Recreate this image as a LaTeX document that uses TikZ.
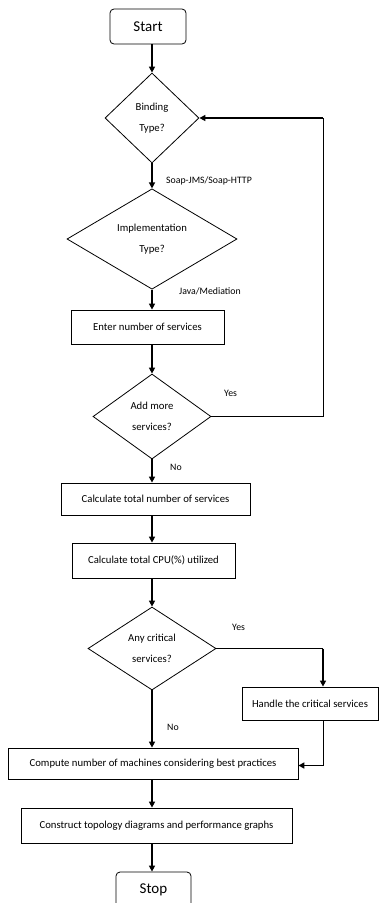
\documentclass[tikz,border=0pt]{standalone}
\usepackage{fontspec}
\setmainfont{Carlito}
\usetikzlibrary{shapes.geometric,arrows.meta}
\tikzset{
    every node/.style={font=\fontsize{10.7}{21.5}\selectfont, align=center,
    	inner sep=0pt}
}
\tikzset{
    proc/.style={draw, line width=0.8pt, rectangle},
    term/.style={proc, rounded corners=4pt, font=\fontsize{15}{18}\selectfont},
    decide/.style={draw, line width=0.8pt, diamond, aspect=1},
    tag/.style={font=\fontsize{9.8}{12}\selectfont, anchor=west}
}
\tikzset{
	arr/.style={line width=1.5pt, -{Triangle[length=6pt,width=6pt]}},
	plain/.style={line width=1pt}
}

\begin{document}
\begin{tikzpicture}[x=1pt, y=-1pt]
	\useasboundingbox (0,0) rectangle (379,903);
	\clip (0,0) rectangle (379,903);
	\node (start) [term, minimum width=76, minimum height=35] at (148,26.5) {Start};
	\node (bind) [decide, minimum width=94, minimum height=90] at (152,118) {Binding\\Type?};
	\node (impl) [decide, minimum width=170, minimum height=92] at (152,239) {Implementation\\Type?};
	\node (enter) [proc, minimum width=153, minimum height=34] at (147.5,327) {Enter number of services};
	\node (more) [decide, minimum width=118, minimum height=85] at (152,416.5) {Add more\\services?};
	\node (total) [proc, minimum width=189, minimum height=32] at (155.5,499) {Calculate total number of services};
	\node (cpu) [proc, minimum width=163, minimum height=35] at (153.5,560.5) {Calculate total CPU(\%) utilized};
	\node (crit) [decide, minimum width=128, minimum height=83] at (152,648.5) {Any critical\\services?};
	\node (handle) [proc, minimum width=136, minimum height=33] at (310,703.5) {Handle the critical services};
	\node (comp) [proc, minimum width=290, minimum height=31] at (153,763.5) {Compute number of machines considering best practices};
	\node (cons) [proc, minimum width=271, minimum height=35] at (156.5,825.5) {Construct topology diagrams and performance graphs};
	\node (stop) [term, minimum width=75, minimum height=36] at (153.5,890) {Stop};
	\coordinate (side) at (323,0);

	\node (soap) [tag] at (166,181) {Soap-JMS/Soap-HTTP};
	\node (java) [tag] at (179,291) {Java/Mediation};
	\node (yes1) [tag] at (224,393) {Yes};
	\node (no1) [tag] at (170,467) {No};
	\node (yes2) [tag] at (232,627) {Yes};
	\node (no2) [tag] at (167,727) {No};

	\draw[arr] (start.south -| bind) -- (bind.north); \draw[arr] (bind.south) -- (impl.north);
	\draw[arr] (impl.south) -- (enter.north -| impl); \draw[arr] (enter.south -| more) -- (more.north);
	\draw[arr] (more.south) -- (total.north -| more); \draw[arr] (total.south -| crit) -- (cpu.north -| crit);
	\draw[arr] (cpu.south -| crit) -- (crit.north); \draw[arr] (crit.south) -- (comp.north -| crit);
	\draw[arr] (comp.south -| crit) -- (cons.north -| crit); \draw[arr] (cons.south -| crit) -- (stop.north -| crit);

	\draw[plain] (more.east) -- (more.east -| side) -- (bind.east -| side);
	\draw[arr] (bind.east -| side) -- (bind.east);
	\draw[plain] (crit.east) -- (crit.east -| side);
	\draw[arr] (crit.east -| side) -- (handle.north -| side);
	\draw[plain] (handle.south -| side) -- ([yshift=-2pt]comp.east -| side);
	\draw[arr] ([yshift=-2pt]comp.east -| side) -- ([yshift=-2pt]comp.east);
\end{tikzpicture}
\end{document}
